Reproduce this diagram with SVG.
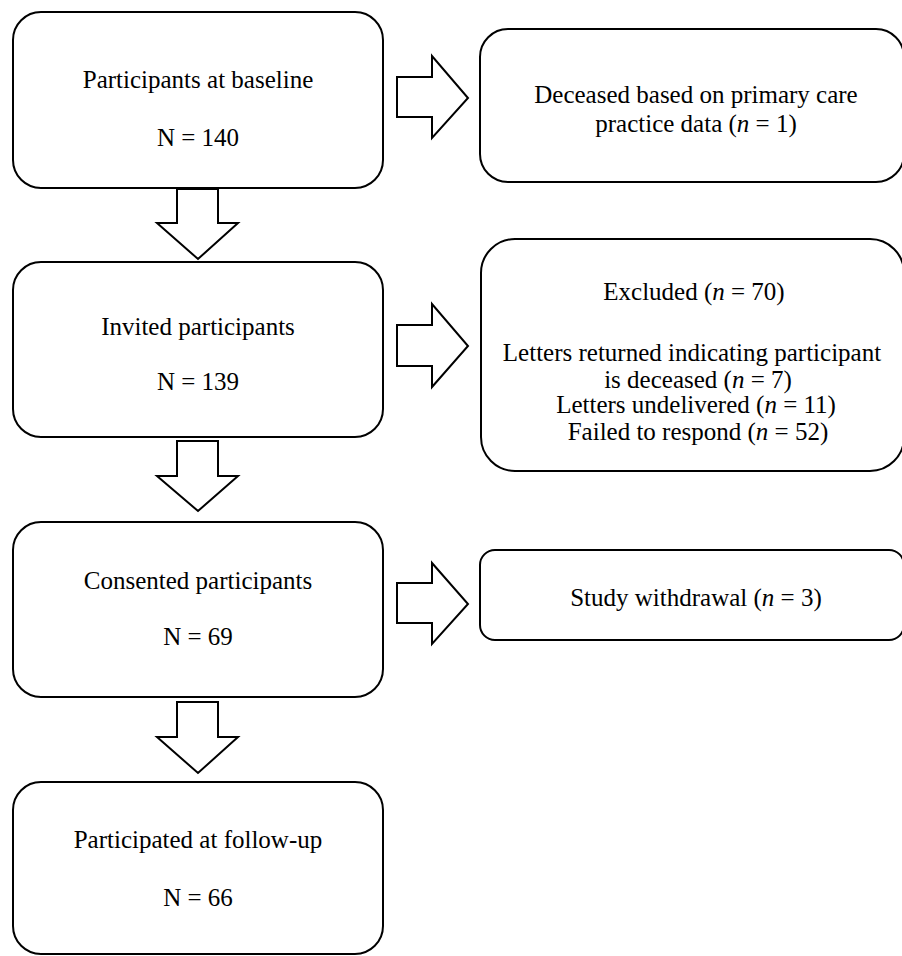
<svg xmlns="http://www.w3.org/2000/svg" width="902" height="956" viewBox="0 0 902 956">
<style>
.box{fill:#fff;stroke:#000;stroke-width:2}
.arr{fill:#fff;stroke:#000;stroke-width:2;stroke-linejoin:miter}
text{font-family:"Liberation Serif","Times New Roman",serif;font-size:25px;fill:#000;text-anchor:middle}
.i{font-style:italic}
</style>
<rect width="902" height="956" fill="#fff"/>
<g id="connectors">
<path class="arr" d="M397,77 H432 V56 L468,98 L432,138 V117 H397 Z"/>
<path class="arr" d="M397,325 H432 V304 L468,346 L432,387 V366 H397 Z"/>
<path class="arr" d="M397,583 H432 V563 L468,604 L432,644 V623 H397 Z"/>
<path class="arr" d="M177,189 H218 V223 H238 L198,259 L157,223 H177 Z"/>
<path class="arr" d="M177,441 H218 V476 H238 L198,511 L157,476 H177 Z"/>
<path class="arr" d="M177,702 H218 V737 H238 L198,773 L157,737 H177 Z"/>
</g>
<g id="baseline">
<rect class="box" x="13" y="12" width="370" height="176" rx="28"/>
<text x="198" y="88">Participants at baseline</text>
<text x="198" y="146">N = 140</text>
</g>
<g id="deceased">
<rect class="box" x="480" y="29" width="424" height="153" rx="28"/>
<text x="696" y="103">Deceased based on primary care</text>
<text x="696" y="132">practice data (<tspan class="i">n</tspan> = 1)</text>
</g>
<g id="invited">
<rect class="box" x="13" y="262" width="370" height="175" rx="28"/>
<text x="198" y="335">Invited participants</text>
<text x="198" y="390">N = 139</text>
</g>
<g id="excluded">
<rect class="box" x="481" y="239" width="423" height="232" rx="34"/>
<text x="694" y="300">Excluded (<tspan class="i">n</tspan> = 70)</text>
<text x="692" y="361">Letters returned indicating participant</text>
<text x="698" y="388">is deceased (<tspan class="i">n</tspan> = 7)</text>
<text x="696" y="413">Letters undelivered (<tspan class="i">n</tspan> = 11)</text>
<text x="698" y="440">Failed to respond (<tspan class="i">n</tspan> = 52)</text>
</g>
<g id="consented">
<rect class="box" x="13" y="522" width="370" height="175" rx="28"/>
<text x="198" y="589">Consented participants</text>
<text x="198" y="645">N = 69</text>
</g>
<g id="withdrawal">
<rect class="box" x="480" y="550" width="424" height="90" rx="15"/>
<text x="696" y="606">Study withdrawal (<tspan class="i">n</tspan> = 3)</text>
</g>
<g id="followup">
<rect class="box" x="13" y="782" width="370" height="172" rx="28"/>
<text x="198" y="848">Participated at follow-up</text>
<text x="198" y="906">N = 66</text>
</g>
</svg>
